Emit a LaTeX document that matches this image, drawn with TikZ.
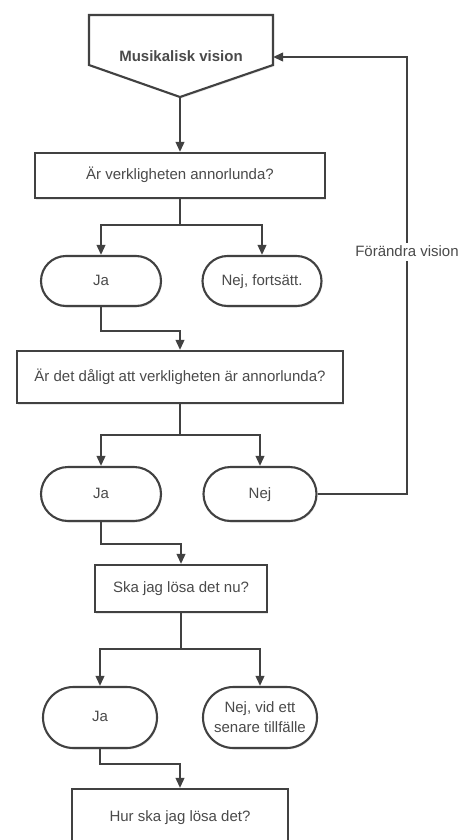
\documentclass[tikz,border=0pt]{standalone}
\usepackage{fontspec}
\setmainfont{Liberation Sans}
\usetikzlibrary{arrows.meta,shapes.misc,shadows}
\definecolor{ln}{HTML}{414141}
\definecolor{tx}{HTML}{4A4A4A}
\begin{document}
\begin{tikzpicture}[x=1pt,y=-1pt,
  font=\fontsize{15}{20}\selectfont, text=tx,
  line/.style={draw=ln, line width=2.1pt},
  arr/.style={line, -{Triangle[length=10pt,width=8.5pt]}},
  shad/.style={drop shadow={opacity=0.18,shadow xshift=1pt,shadow yshift=-1.5pt}},
  one/.style={text height=11pt, text depth=3pt},
  proc/.style={rectangle, draw=ln, line width=2.1pt, fill=white, shad, inner sep=0pt, align=center},
  term/.style={rounded rectangle, draw=ln, line width=2.1pt, fill=white, shad, inner sep=0pt, align=center}]
\clip (0,0) rectangle (463,840);
\fill[white] (0,0) rectangle (463,840);

% pentagon (off-page connector)
\filldraw[draw=ln, fill=white, line width=2.1pt, line join=miter, shad]
  (89,15) -- (273,15) -- (273,65) -- (180,97) -- (89,65) -- cycle;
\node[one, font=\fontsize{15}{20}\selectfont\bfseries] (vision) at (181,58) {Musikalisk vision};
\coordinate (vtip) at (180,97);
\coordinate (vright) at (273,57);

\node[proc, one, minimum width=290pt, minimum height=45pt] (box1) at (180,175.5) {Är verkligheten annorlunda?};
\node[term, one, minimum width=120pt, minimum height=50pt] (ja1) at (101,281) {Ja};
\node[term, one, minimum width=119pt, minimum height=50pt] (nej1) at (262,281) {Nej, fortsätt.};
\node[proc, one, minimum width=326pt, minimum height=52pt] (box2) at (180,377) {Är det dåligt att verkligheten är annorlunda?};
\node[term, one, minimum width=120pt, minimum height=54pt] (ja2) at (101,494) {Ja};
\node[term, one, minimum width=113pt, minimum height=54pt] (nej2) at (260,494) {Nej};
\node[proc, one, minimum width=172pt, minimum height=47pt] (box3) at (181,588.5) {Ska jag lösa det nu?};
\node[term, one, minimum width=114pt, minimum height=61pt] (ja3) at (100,717.5) {Ja};
\node[term, minimum width=114pt, minimum height=61pt] (nej3) at (260,717.5) {Nej, vid ett\\senare tillfälle};
\node[proc, one, minimum width=216pt, minimum height=56pt] (box4) at (180,817) {Hur ska jag lösa det?};

\coordinate (s1) at (180,225);
\coordinate (s2) at (180,435);
\coordinate (s3) at (181,649);
\coordinate (loopbot) at (407,494);
\coordinate (looptop) at (407,57);

\draw[arr] (vtip) -- (box1.north);
\draw[line] (box1.south) -- (s1);
\draw[arr] (s1) -| (ja1.north);
\draw[arr] (s1) -| (nej1.north);
\draw[arr] (ja1.south) -- ++(0,24) -| (box2.north);
\draw[line] (box2.south) -- (s2);
\draw[arr] (s2) -| (ja2.north);
\draw[arr] (s2) -| (nej2.north);
\draw[arr] (nej2.east) -- (loopbot) -- (looptop) -- (vright);
\node[one, fill=white, inner sep=2pt] (lbl) at (407,252) {Förändra vision};
\draw[arr] (ja2.south) -- ++(0,22) -| (box3.north);
\draw[line] (box3.south) -- (s3);
\draw[arr] (s3) -| (ja3.north);
\draw[arr] (s3) -| (nej3.north);
\draw[arr] (ja3.south) -- ++(0,15) -| (box4.north);
\end{tikzpicture}
\end{document}
